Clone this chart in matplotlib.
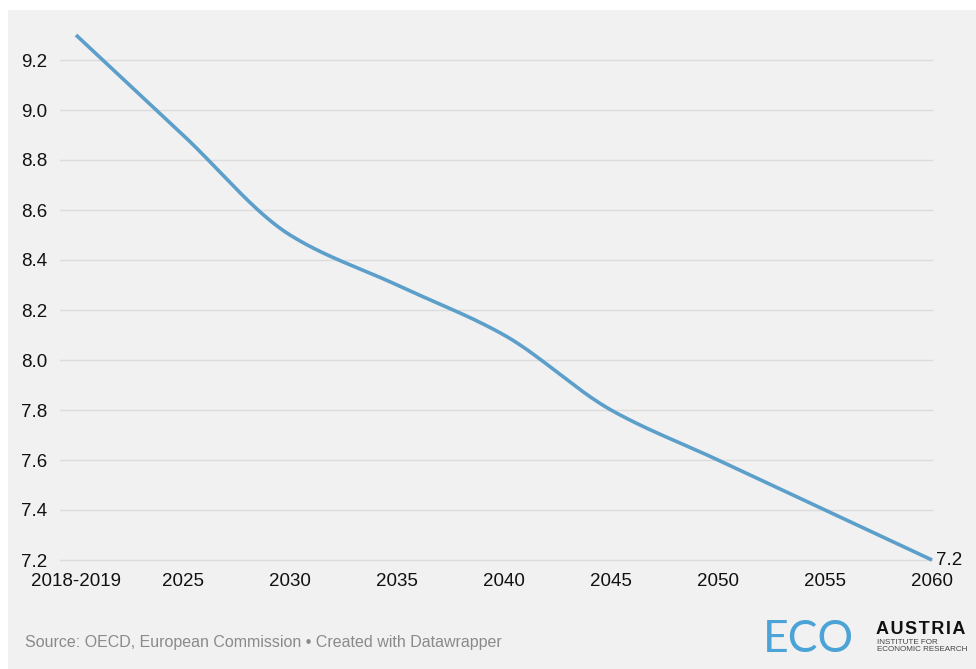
import numpy as np
import matplotlib.pyplot as plt
from matplotlib.patches import Rectangle

plt.rcParams['font.family'] = ['Liberation Sans', 'DejaVu Sans']

# data
periods = ['2018-2019', '2025', '2030', '2035', '2040', '2045', '2050', '2055', '2060']
values = [9.3, 8.9, 8.5, 8.3, 8.1, 7.8, 7.6, 7.4, 7.2]
yticks = [7.2, 7.4, 7.6, 7.8, 8.0, 8.2, 8.4, 8.6, 8.8, 9.0, 9.2]


def monotone(x, y, n=40):
    # monotone cubic (Fritsch-Carlson) between points
    x = np.asarray(x, float)
    y = np.asarray(y, float)
    h = np.diff(x)
    d = np.diff(y) / h
    m = np.zeros_like(y)
    m[0], m[-1] = d[0], d[-1]
    for i in range(1, len(y) - 1):
        if d[i - 1] * d[i] <= 0:
            m[i] = 0
        else:
            w1 = 2 * h[i] + h[i - 1]
            w2 = h[i] + 2 * h[i - 1]
            m[i] = (w1 + w2) / (w1 / d[i - 1] + w2 / d[i])
    xs, ys = [], []
    for i in range(len(h)):
        t = np.linspace(0, 1, n)
        h00 = 2 * t**3 - 3 * t**2 + 1
        h10 = t**3 - 2 * t**2 + t
        h01 = -2 * t**3 + 3 * t**2
        h11 = t**3 - t**2
        xs.append(x[i] + t * h[i])
        ys.append(h00 * y[i] + h10 * h[i] * m[i] + h01 * y[i + 1] + h11 * h[i] * m[i + 1])
    return np.concatenate(xs), np.concatenate(ys)


W, H = 976, 669
fig = plt.figure(figsize=(W / 100, H / 100), dpi=100, facecolor='white')
# grey panel behind everything
fig.patches.append(Rectangle((8 / W, 0), 1, 1 - 10 / H, transform=fig.transFigure,
                             facecolor='#f1f1f1', edgecolor='none', zorder=-10))

ax = fig.add_axes([60 / W, 1 - 560 / H, (932 - 60) / W, (560 - 35) / H])
ax.set_facecolor('none')

pos = np.arange(len(periods))
sx, sy = monotone(pos, values)
ax.plot(sx, sy, color='#5b9fca', lw=2.6, clip_on=False, solid_capstyle='butt', zorder=3)

ax.set_xlim(-16 / 107, len(periods) - 1)
ax.set_ylim(7.2, 9.3)
ax.set_yticks(yticks)
ax.set_yticklabels([f'{v:.1f}' for v in yticks])
ax.set_xticks(pos)
ax.set_xticklabels(periods)
ax.grid(axis='y', color='#dcdcdc', lw=1)
for gl in ax.get_ygridlines():
    gl.set_clip_on(False)
ax.set_axisbelow(True)
ax.tick_params(axis='y', length=0, pad=9, labelsize=13.5, labelcolor='#111111')
ax.tick_params(axis='x', length=0, pad=9, labelsize=13.5, labelcolor='#111111')
for s in ax.spines.values():
    s.set_visible(False)

ax.annotate(f'{values[-1]:.1f}', (pos[-1], values[-1]), xytext=(3, 0),
            textcoords='offset points', ha='left', va='center',
            fontsize=13.5, color='#111111', annotation_clip=False)

fig.text(25 / W, 1 - 642 / H, 'Source: OECD, European Commission \u2022 Created with Datawrapper',
         fontsize=11.5, color='#8a8a8a', va='center', ha='left')

# logo
fig.text(763 / W, 1 - 640 / H, 'ECO', fontsize=32, color='#4ba3d6', va='center', ha='left',
         family=['Lato', 'DejaVu Sans'])
fig.text(876 / W, 1 - 630 / H, '\u200a'.join('AUSTRIA'), fontsize=13, fontweight='bold',
         color='#111111', va='center', ha='left')
fig.text(877 / W, 1 - 646 / H, 'INSTITUTE FOR\nECONOMIC RESEARCH', fontsize=5.8, color='#444444',
         va='center', ha='left', linespacing=1.0)

fig.savefig('out.png', dpi=100, facecolor=fig.get_facecolor())
